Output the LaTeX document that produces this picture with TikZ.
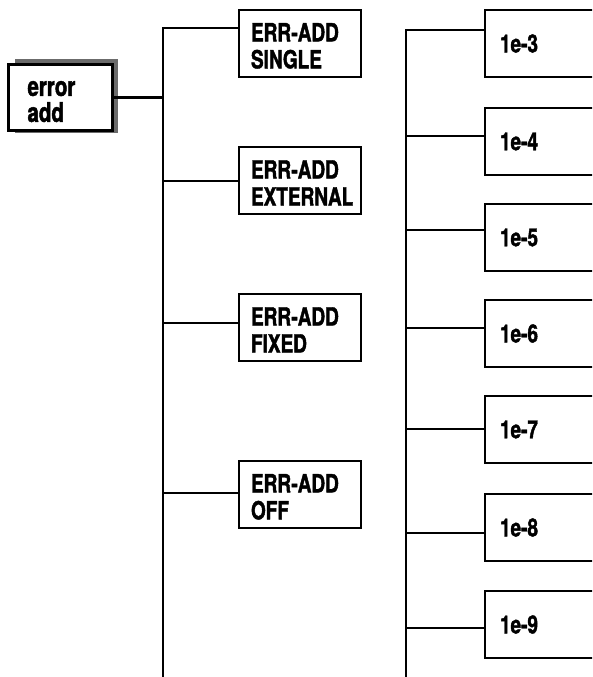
\documentclass[tikz,border=0pt]{standalone}
\usepackage{fontspec}
\newfontfamily\menufont{TeX Gyre Heros}[FakeStretch=0.76, BoldFeatures={FakeBold=1.6}]
\tikzset{
  root box/.style={
    draw,
    fill=white,
    line width=3pt,
    outer sep=0pt,
    anchor=north west,
    minimum width=104pt,
    minimum height=66pt,
    inner xsep=19pt,
    inner ysep=2pt,
    text width=66pt,
    align=left,
    font=\menufont\bfseries\fontsize{27}{26}\selectfont,
    execute at begin node={\rule{0pt}{23pt}}
  },
  menu box/.style={
    draw,
    line width=2.5pt,
    outer sep=0pt,
    anchor=north west,
    minimum width=122pt,
    minimum height=67pt,
    inner xsep=12pt,
    inner ysep=2pt,
    text width=98pt,
    align=left,
    font=\menufont\bfseries\fontsize{25}{27}\selectfont,
    execute at begin node={\rule{0pt}{23pt}}
  },
  value box/.style={
    draw,
    line width=2.5pt,
    outer sep=0pt,
    anchor=north west,
    minimum width=122pt,
    minimum height=67pt,
    inner xsep=15pt,
    text width=92pt,
    align=left,
    font=\menufont\bfseries\fontsize{25}{27}\selectfont
  },
  branch/.style={
    line width=2.5pt,
    line join=miter
  }
}

\begin{document}
\begin{tikzpicture}[x=1pt, y=-1pt]
    \useasboundingbox (0,0) rectangle (592,677);
    \clip (0,0) rectangle (592,677);

    % 1. root with its shadow
    \fill[black!58] (15,59) rectangle (118,133);
    \node[root box] (root) at (8.5,64.5) {error\\add};

    % 2. first column
    \node[menu box] (E1) at (239,10) {ERR-ADD\\SINGLE};
    \node[menu box] (E2) at (239,147) {ERR-ADD\\EXTERNAL};
    \node[menu box] (E3) at (239,294) {ERR-ADD\\FIXED};
    \node[menu box] (E4) at (239,461) {ERR-ADD\\OFF};

    % trunk of the first column
    \coordinate (T1a) at (163,28);
    \coordinate (T1b) at (163,181);
    \coordinate (T1c) at (163,323);
    \coordinate (T1d) at (163,493);
    \coordinate (T1end) at (163,680);
    \draw[branch] (root.east) -- (root.east -| T1a);
    \draw[branch] (T1end) -- (T1a) -- (T1a -| E1.west);
    \draw[branch] (T1b) -- (T1b -| E2.west);
    \draw[branch] (T1c) -- (T1c -| E3.west);
    \draw[branch] (T1d) -- (T1d -| E4.west);

    % 3. second column
    \node[value box] (V1) at (485,10) {1e-3};
    \node[value box] (V2) at (485,108) {1e-4};
    \node[value box] (V3) at (485,204) {1e-5};
    \node[value box] (V4) at (485,300) {1e-6};
    \node[value box] (V5) at (485,396) {1e-7};
    \node[value box] (V6) at (485,494) {1e-8};
    \node[value box] (V7) at (485,591) {1e-9};

    % trunk of the second column
    \coordinate (T2a) at (406,30);
    \coordinate (T2b) at (406,136);
    \coordinate (T2c) at (406,230);
    \coordinate (T2d) at (406,328);
    \coordinate (T2e) at (406,429);
    \coordinate (T2f) at (406,533);
    \coordinate (T2g) at (406,628);
    \coordinate (T2end) at (406,680);
    \draw[branch] (T2end) -- (T2a) -- (T2a -| V1.west);
    \draw[branch] (T2b) -- (T2b -| V2.west);
    \draw[branch] (T2c) -- (T2c -| V3.west);
    \draw[branch] (T2d) -- (T2d -| V4.west);
    \draw[branch] (T2e) -- (T2e -| V5.west);
    \draw[branch] (T2f) -- (T2f -| V6.west);
    \draw[branch] (T2g) -- (T2g -| V7.west);

  \end{tikzpicture}
\end{document}
